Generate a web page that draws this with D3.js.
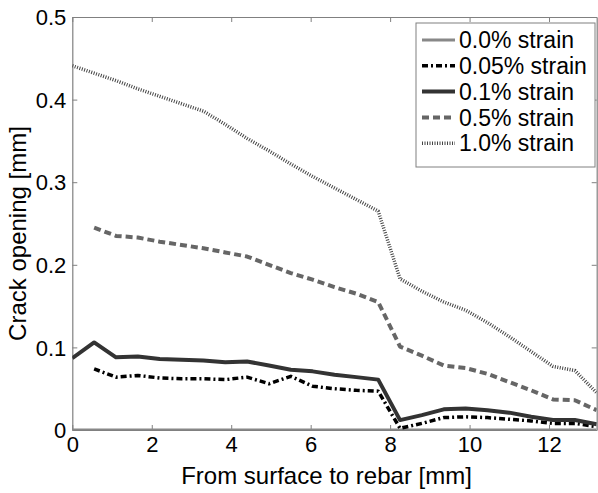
<!DOCTYPE html>
<html><head><meta charset="utf-8">
<script src="https://cdn.jsdelivr.net/npm/d3@7"></script>
<style>body{margin:0;background:#fff}svg{display:block}text{font-family:"Liberation Sans",Arial,sans-serif}</style>
</head><body>
<script>
const xValues = d3.range(25).map(i => +(i*0.55).toFixed(2));
const s00 = [0,0,0,0,0,0,0,0,0,0,0,0,0,0,0,0,0,0,0,0,0,0,0,0,0];
const s005 = [null,0.074,0.064,0.066,0.063,0.062,0.062,0.061,0.064,0.056,0.065,0.053,0.050,0.048,0.047,0.002,0.008,0.015,0.016,0.015,0.013,0.011,0.008,0.008,0.004];
const s01 = [0.087,0.106,0.088,0.089,0.086,0.085,0.084,0.082,0.083,0.078,0.073,0.071,0.067,0.064,0.061,0.012,0.018,0.025,0.026,0.024,0.021,0.016,0.012,0.012,0.007];
const s05 = [null,0.245,0.235,0.233,0.228,0.224,0.220,0.215,0.210,0.200,0.190,0.182,0.173,0.165,0.155,0.101,0.090,0.078,0.075,0.068,0.058,0.048,0.037,0.036,0.024];
const s10 = [0.441,0.432,0.423,0.413,0.404,0.395,0.386,0.370,0.353,0.338,0.322,0.307,0.293,0.279,0.265,0.183,0.168,0.155,0.145,0.130,0.113,0.095,0.077,0.072,0.045];
const seriesNames = ["0.0% strain","0.05% strain","0.1% strain","0.5% strain","1.0% strain"];
const xTicks = [0,2,4,6,8,10,12];
const yTicks = [0,0.1,0.2,0.3,0.4,0.5];

const styles = [
  {color:"#888888", width:3, dash:null},
  {color:"#000000", width:3.5, dash:"6,3,2,3"},
  {color:"#333333", width:4, dash:null},
  {color:"#666666", width:4, dash:"7,4"},
  {color:"#444444", width:3.5, dash:"1,1.5"}
];
const data = [s00,s005,s01,s05,s10];

const W=598,H=493, L=72.3, R=596.7, T=17, B=430;
const svg = d3.select("body").append("svg").attr("width",W).attr("height",H);
const x = d3.scaleLinear().domain([0,13.2]).range([L,R]);
const y = d3.scaleLinear().domain([0,0.5]).range([B,T]);

svg.append("clipPath").attr("id","clip").append("rect").attr("x",L).attr("y",T).attr("width",R-L).attr("height",B-T);

const axColor="#808080";
const gx = svg.append("g").attr("transform",`translate(0,${B})`)
  .call(d3.axisBottom(x).tickValues(xTicks).tickFormat(d3.format("d")).tickSizeInner(-5).tickSizeOuter(0).tickPadding(6));
const gxt = svg.append("g").attr("transform",`translate(0,${T})`)
  .call(d3.axisTop(x).tickValues(xTicks).tickFormat("").tickSizeInner(-5).tickSizeOuter(0));
const gy = svg.append("g").attr("transform",`translate(${L},0)`)
  .call(d3.axisLeft(y).tickValues(yTicks).tickFormat(d=>d===0?"0":d3.format(".1f")(d)).tickSizeInner(-5).tickSizeOuter(0).tickPadding(6));
const gyr = svg.append("g").attr("transform",`translate(${R},0)`)
  .call(d3.axisRight(y).tickValues(yTicks).tickFormat("").tickSizeInner(-5).tickSizeOuter(0));
[gx,gxt,gy,gyr].forEach(g=>{
  g.selectAll("path").attr("stroke",axColor).attr("stroke-width",1.2);
  g.selectAll("line").attr("stroke",axColor);
  g.selectAll("text").attr("fill","#000").style("font-size","22px");
});
gy.selectAll("text").attr("dy","0.35em");
gx.selectAll("text").attr("dy","0.71em");

const line = d3.line().defined(d=>d[1]!=null).x(d=>x(d[0])).y(d=>y(d[1]));
const plot = svg.append("g").attr("clip-path","url(#clip)");
data.forEach((s,k)=>{
  const pts = s.map((v,i)=>[xValues[i],v]);
  plot.append("path").attr("d",line(pts)).attr("fill","none")
    .attr("stroke",styles[k].color).attr("stroke-width",styles[k].width)
    .attr("stroke-dasharray",styles[k].dash).attr("stroke-linejoin","round");
});

svg.append("text").attr("x",(L+R)/2 - 8).attr("y",484).attr("text-anchor","middle")
  .style("font-size","24px").text("From surface to rebar [mm]");
svg.append("text").attr("transform",`translate(18,${(T+B)/2 + 10}) rotate(-90)`).attr("text-anchor","middle")
  .attr("dy","0.35em").style("font-size","24px").text("Crack opening [mm]");

const lg = svg.append("g");
lg.append("rect").attr("x",416).attr("y",23).attr("width",179).attr("height",144)
  .attr("fill","#fff").attr("stroke","#808080").attr("stroke-width",1);
seriesNames.forEach((n,k)=>{
  const cy = 40 + k*25.8;
  lg.append("line").attr("x1",422).attr("x2",455).attr("y1",cy).attr("y2",cy)
    .attr("stroke",styles[k].color).attr("stroke-width",styles[k].width).attr("stroke-dasharray",styles[k].dash);
  lg.append("text").attr("x",459).attr("y",cy).attr("dy","0.36em").style("font-size","23px").text(n);
});
</script>
</body></html>
